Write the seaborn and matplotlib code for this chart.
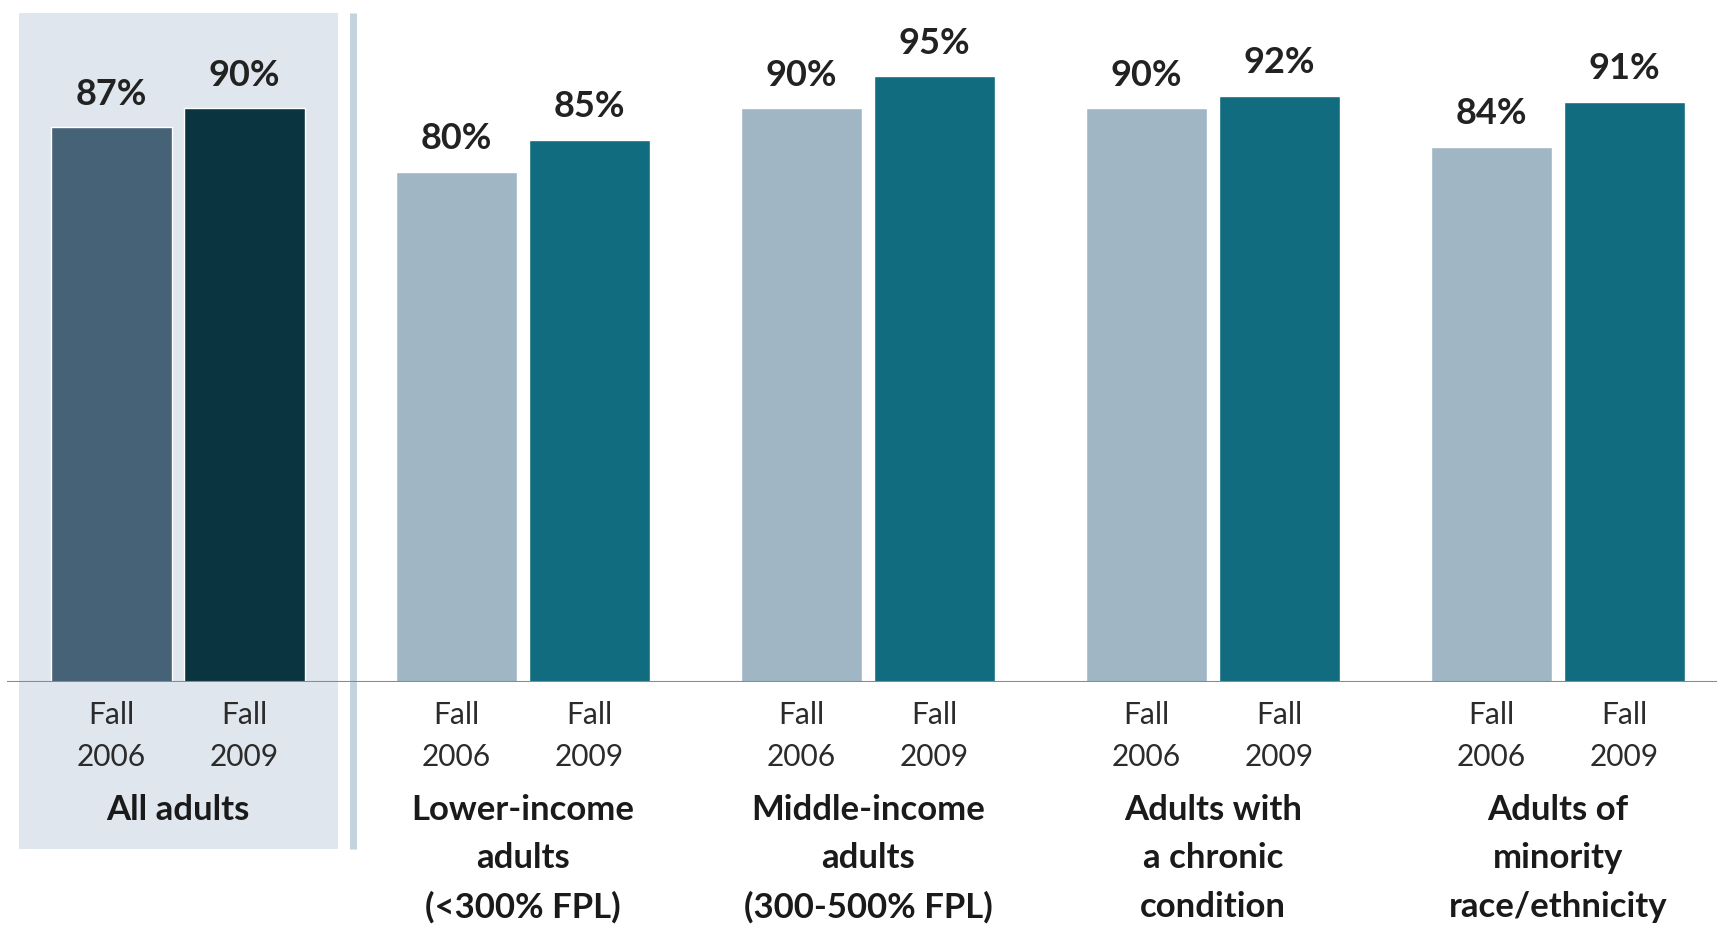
import pandas as pd
import matplotlib.pyplot as plt
import seaborn as sns
from matplotlib.patches import Rectangle

groups = ['All adults', 'Lower-income\nadults\n(<300% FPL)', 'Middle-income\nadults\n(300-500% FPL)',
          'Adults with\na chronic\ncondition', 'Adults of\nminority\nrace/ethnicity']
years = ['Fall\n2006', 'Fall\n2009']
fall_2006 = [87, 80, 90, 90, 84]
fall_2009 = [90, 85, 95, 92, 91]

df = pd.DataFrame({
    'group': groups * 2,
    'year': [years[0]] * 5 + [years[1]] * 5,
    'value': fall_2006 + fall_2009,
})

sns.set_style('white')
plt.rcParams['font.family'] = ['Lato', 'DejaVu Sans']

fig = plt.figure(figsize=(17.17, 9.26), dpi=100)
ax = fig.add_axes([7 / 1717, 244 / 926, 1 - 7 / 1717, 682 / 926])

sns.barplot(data=df, x='group', y='value', hue='year', order=groups, hue_order=years,
            palette=['#a0b6c5', '#116c80'], width=0.772, gap=0.093, saturation=1,
            legend=False, ax=ax, zorder=3)

# first group has its own darker colours
for cont, col in zip(ax.containers, ['#466276', '#0a3540']):
    cont.patches[0].set_facecolor(col)
    ax.bar_label(cont, fmt='%d%%', padding=12, fontsize=26, fontweight='bold', color='#222222')

ax.set_xlim((7 - 178) / 345, (1717 - 178) / 345)
ax.set_ylim(0, 682 / 6.375)

# shaded panel behind "All adults" and separator bar
ax.add_patch(Rectangle((-0.461, -26.2), 0.925, 131.1, facecolor='#dfe6ed', edgecolor='none',
                       zorder=0, clip_on=False))
ax.plot([0.506, 0.506], [-26.2, 104.9], color='#c2d3de', lw=5, clip_on=False, zorder=1,
        solid_capstyle='butt')

ax.axhline(0, color='#8a8a8a', lw=1.5, zorder=4)

# year labels under each bar
for cont, yr in zip(ax.containers, years):
    for p in cont.patches:
        xc = p.get_x() + p.get_width() / 2
        for line, yy in zip(yr.split('\n'), [-5.2, -11.8]):
            ax.text(xc, yy, line, ha='center', va='center', fontsize=21.5, color='#2b2b2b',
                    clip_on=False)

# group labels
for i, g in enumerate(groups):
    for line, yy in zip(g.split('\n'), [-20.1, -27.6, -35.3]):
        ax.text(i, yy, line, ha='center', va='center', fontsize=25, fontweight='bold',
                color='#1a1a1a', clip_on=False)

ax.set_xticks([])
ax.set_yticks([])
ax.set_xlabel('')
ax.set_ylabel('')
sns.despine(ax=ax, left=True, bottom=True)

fig.savefig('out.png', dpi=100)
